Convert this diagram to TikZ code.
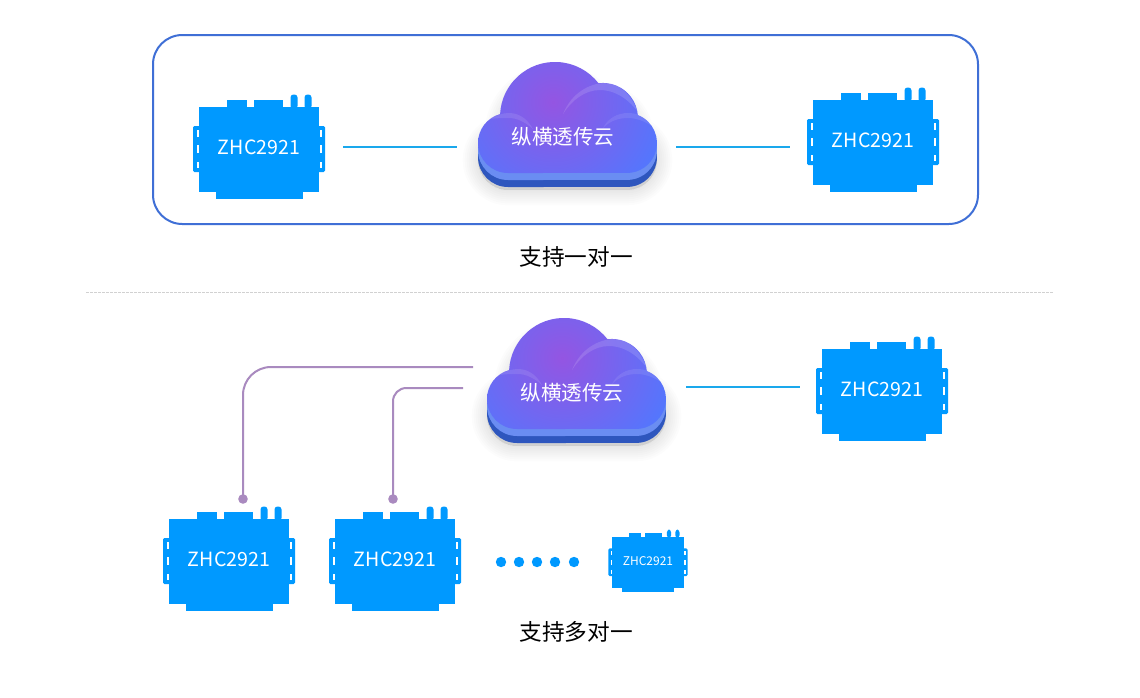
\documentclass[tikz,border=0pt]{standalone}
\usepackage{fontspec}
\setmainfont{Noto Sans CJK SC}
\definecolor{devblue}{HTML}{0099FF}
\definecolor{linkcyan}{HTML}{1AA8EC}
\definecolor{linkpurple}{HTML}{A98ABF}
\definecolor{framecol}{HTML}{3F6FD6}
\definecolor{cloudpurple}{HTML}{9455E2}
\definecolor{cloudblue}{HTML}{5078FF}
\definecolor{cloudrim}{HTML}{6A8DF2}
\definecolor{clouddark}{HTML}{2E56BE}
\tikzset{
  x=0.75pt,y=-0.75pt,
  devfill/.style={fill=devblue,draw=none},
  slotfill/.style={fill=white,draw=none},
  toplink/.style={draw=linkcyan,line width=1.3pt},
  pplink/.style={draw=linkpurple,line width=1.5pt},
  ppdot/.style={circle,fill=linkpurple,draw=none,inner sep=0pt,minimum size=7.2pt},
  ell/.style={circle,fill=devblue,draw=none,inner sep=0pt,minimum size=7.8pt},
  caption/.style={text=black,font=\fontsize{17}{20}\selectfont,inner sep=0pt},
  cloudtext/.style={text=white,font=\fontsize{15.4}{18}\selectfont,inner sep=0pt},
}
% outline of the cloud, in pixel coordinates of the upper cloud
\newcommand{\cloudoutline}{(508,173) arc[start angle=90,end angle=254.7,radius=30]
  arc[start angle=183,end angle=322.2,radius=55]
  arc[start angle=262.6,end angle=355.2,radius=35]
  arc[start angle=291.2,end angle=450,radius=30] -- cycle}
% #1 name  #2 dx  #3 dy  #4 text
\newcommand{\cloudpic}[4]{%
  \begin{scope}[shift={(#2,#3)}]
    \begin{scope}[shift={(0,17)}]
      \foreach \w in {2,5,8,11,14,17,20,23}{\draw[black,opacity=.011,line width=\w pt,line join=round,fill=black,fill opacity=.011] \cloudoutline;}
    \end{scope}
    \begin{scope}[shift={(0,14)}]\fill[clouddark] \cloudoutline;\end{scope}
    \begin{scope}[shift={(0,7)}]\fill[cloudrim] \cloudoutline;\end{scope}
    \begin{scope}
      \clip \cloudoutline;
      \shade[inner color=cloudpurple,outer color=cloudblue] (553,102) circle[radius=120];
      \fill[white,opacity=.13] (563,114) .. controls (572,92) and (590,84) .. (603,83)
        .. controls (618,83) and (630,92) .. (638,112)
        .. controls (626,96) and (612,90) .. (600,90)
        .. controls (585,90) and (572,100) .. (563,114) -- cycle;
      \fill[white,opacity=.09] (603,128) .. controls (608,118) and (618,113) .. (628,113)
        .. controls (640,113) and (650,119) .. (655,128)
        .. controls (645,121) and (636,118) .. (628,118)
        .. controls (618,118) and (610,121) .. (603,128) -- cycle;
      \fill[white,opacity=.10] (490,119) .. controls (497,115) and (503,113) .. (509,113)
        .. controls (520,113) and (528,120) .. (533,129)
        .. controls (525,122) and (517,118) .. (509,118)
        .. controls (503,118) and (497,118) .. (490,119) -- cycle;
    \end{scope}
    \node[cloudtext] (#1) at (563,137) {#4};
  \end{scope}}
% #1 name  #2 x  #3 y  #4 scale  #5 font size (pt)
\newcommand{\devicepic}[5]{%
  \begin{scope}[shift={(#2,#3)},scale=#4]
    \fill[devfill] (-60,-40) rectangle (60,45);
    \fill[devfill] (-43,45) rectangle (44,52);
    \fill[devfill] (-32,-47) rectangle (-12,-40);
    \fill[devfill] (-5,-47) rectangle (24,-40);
    \fill[devfill,rounded corners=2.2pt] (31.5,-38) -- (31.5,-52.5) -- (38.5,-52.5) -- (38.5,-38) -- cycle;
    \fill[devfill,rounded corners=2.2pt] (45.5,-38) -- (45.5,-52.5) -- (52.5,-52.5) -- (52.5,-38) -- cycle;
    \fill[devfill,rounded corners=1pt] (-66,-21) rectangle (-58,25);
    \fill[devfill,rounded corners=1pt] (58,-21) rectangle (66,25);
    \foreach \sx in {-61.5,61.5}{
      \fill[slotfill] (\sx-1,-17) rectangle (\sx+1,-10);
      \fill[slotfill] (\sx-1,-2) rectangle (\sx+1,6);
      \fill[slotfill] (\sx-1,15) rectangle (\sx+1,21);
    }
    \node[text=white,inner sep=0pt,font=\fontsize{#5}{#5}\selectfont] (#1) at (0,0.7) {ZHC2921};
  \end{scope}}
\begin{document}
\begin{tikzpicture}
\useasboundingbox (0,0) rectangle (1140,697);
\fill[white] (0,0) rectangle (1140,697);
% frame and divider
\draw[framecol,line width=1.5pt,rounded corners=22pt] (153,35) rectangle (978,224);
\draw[black!18,line width=.6pt,dash pattern=on 2pt off 1pt] (86,292) -- (1053,292);
% upper row
\devicepic{devA}{259}{147}{1}{14.7}
\cloudpic{cloudA}{0}{0}{纵横透传云}
\devicepic{devB}{873}{140}{1}{14.7}
\coordinate (a1) at (343,147); \coordinate (a2) at (457,147);
\coordinate (b1) at (676,147); \coordinate (b2) at (790,147);
\draw[toplink] (a1) -- (a2);
\draw[toplink] (b1) -- (b2);
\node[caption] (capA) at (576,257) {支持一对一};
% lower part
\cloudpic{cloudB}{9}{256}{纵横透传云}
\devicepic{devC}{882}{389}{1}{14.7}
\coordinate (c1) at (686,387); \coordinate (c2) at (800,387);
\draw[toplink] (c1) -- (c2);
\devicepic{devD}{229}{559}{1}{14.7}
\devicepic{devE}{395}{559}{1}{14.7}
\devicepic{devF}{648}{561}{0.6}{9}
\node[ppdot] (dotD) at (243,499) {};
\node[ppdot] (dotE) at (393,499) {};
\coordinate (d1) at (473,367); \coordinate (e1) at (463,388);
\draw[pplink,rounded corners=21pt] (dotD.center) |- (d1);
\draw[pplink,rounded corners=10pt] (dotE.center) |- (e1);
\foreach \n/\ex in {1/501,2/519,3/537,4/555,5/574}{\node[ell] (el\n) at (\ex,562) {};}
\node[caption] (capB) at (576,632) {支持多对一};
\end{tikzpicture}
\end{document}
